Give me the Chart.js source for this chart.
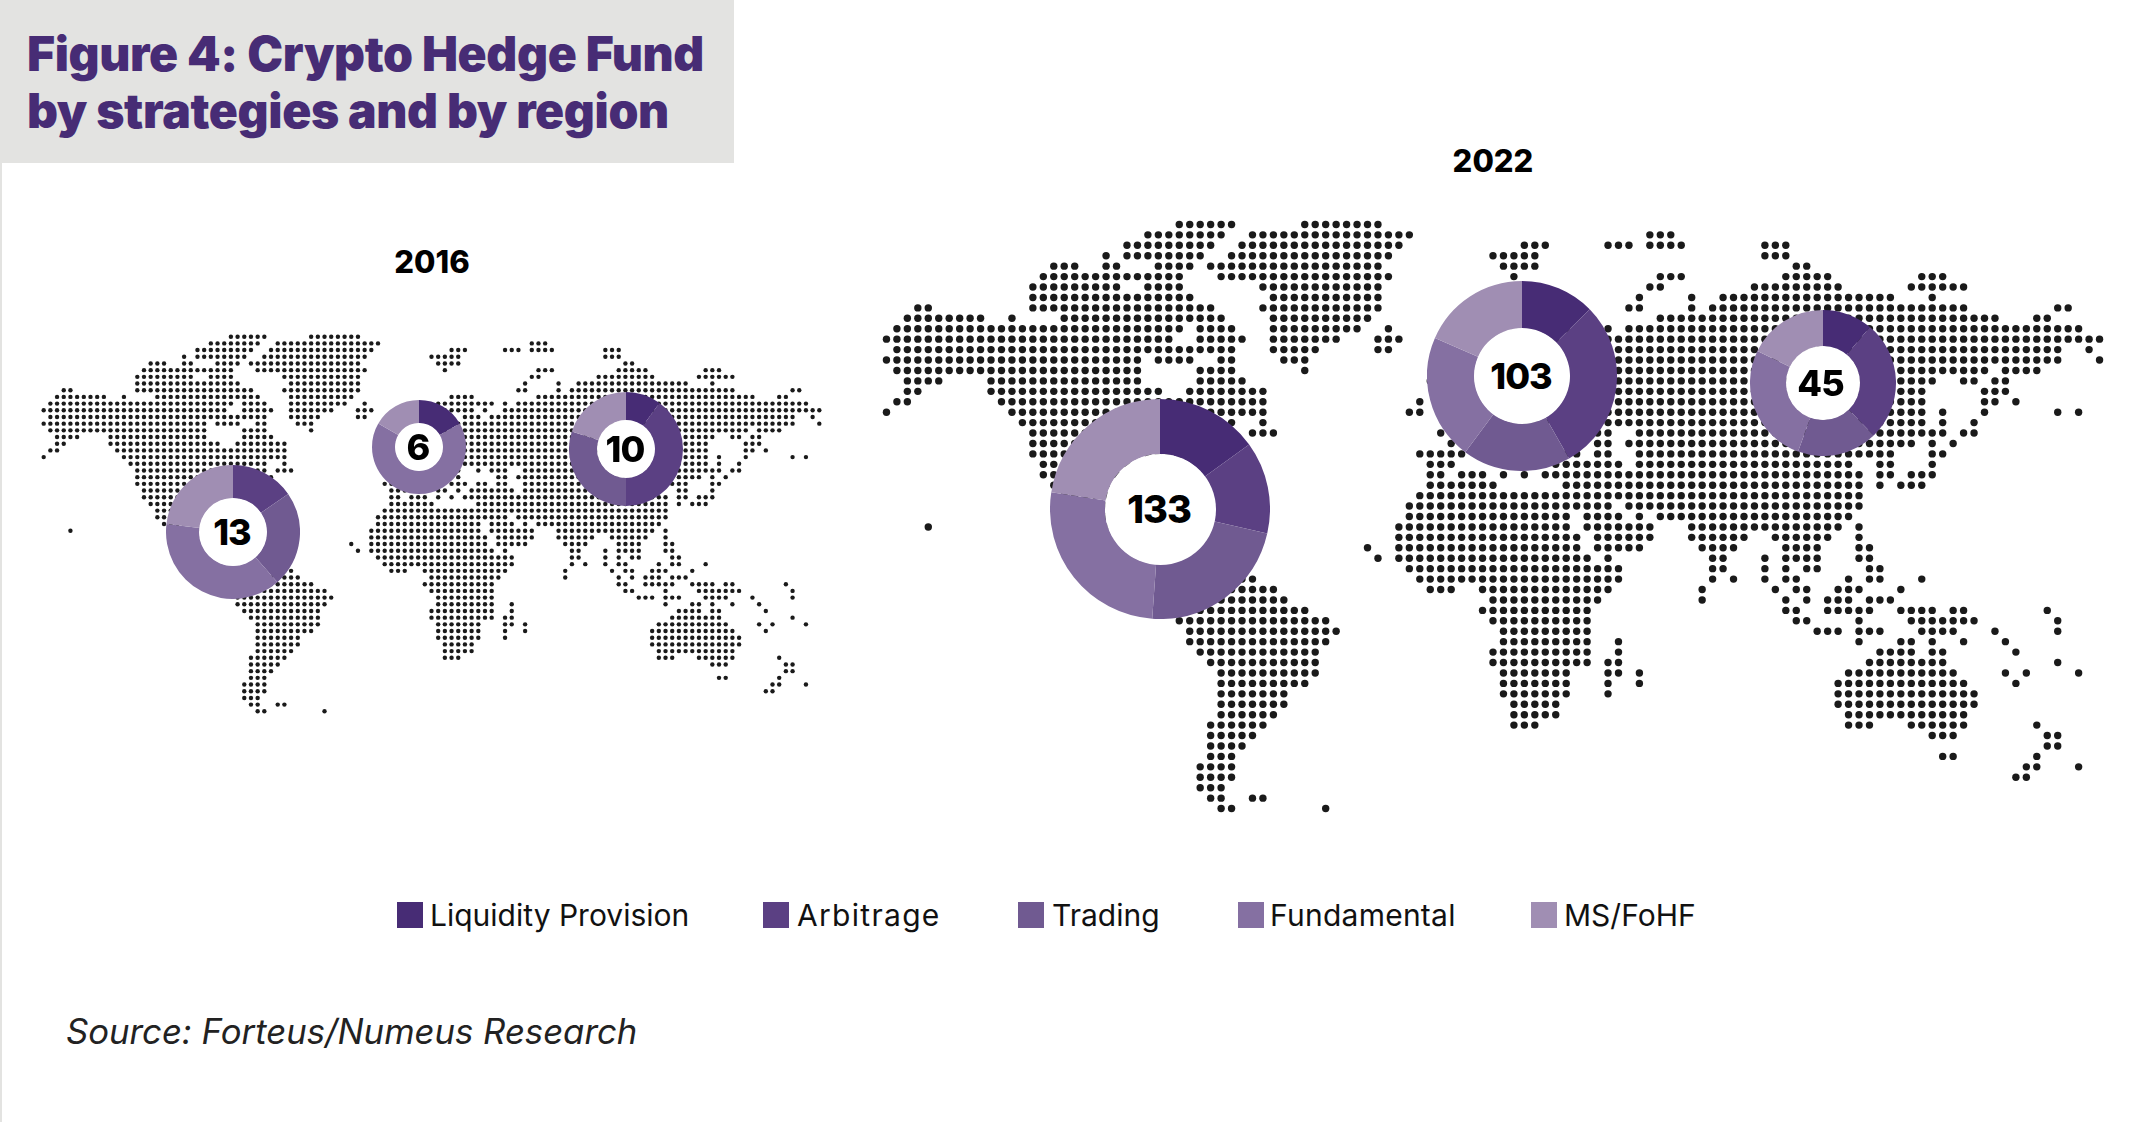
<!DOCTYPE html>
<html>
<head>
<meta charset="utf-8">
<title>Figure 4: Crypto Hedge Fund by strategies and by region</title>
<script src="https://cdn.jsdelivr.net/npm/chart.js@4"></script>
<style>
  html, body { margin: 0; padding: 0; background: #fff; }
  body { width: 2142px; height: 1122px; position: relative; overflow: hidden; font-family: Inter, sans-serif; color: #000; }
  canvas { position: absolute; }
  #edge { position: absolute; left: 0; top: 0; width: 2px; height: 1122px; background: #e3e3e1; }
  #titleBox { position: absolute; left: 0; top: 0; width: 734px; height: 163px; background: #e3e3e1; }
  #title { position: absolute; left: 27px; top: 25px; font-size: 48px; line-height: 57px; font-weight: 900; letter-spacing: -0.35px; color: #472c75; white-space: nowrap; }
  .year { position: absolute; font-size: 31px; font-weight: 800; transform: translateX(-50%); }
  .hole { position: absolute; box-sizing: border-box; background: #fff; border-radius: 50%; display: flex; align-items: center; justify-content: center; font-weight: 800; letter-spacing: -1px; padding-right: 2px; color: #000; z-index: 2; }
  .swatch { position: absolute; top: 902px; width: 26px; height: 26px; }
  .legendText { position: absolute; top: 897px; font-size: 30px; line-height: 36px; white-space: nowrap; color: #111; }
  #source { position: absolute; left: 66px; top: 1010px; font-size: 34.7px; line-height: 42px; font-style: italic; color: #222; white-space: nowrap; }
</style>
</head>
<body>
<div id="edge"></div>
<div id="titleBox"></div>
<div id="title">Figure 4: Crypto Hedge Fund<br>by strategies and by region</div>
<div class="year" style="left:432px;top:243px">2016</div>
<div class="year" style="left:1493px;top:142px">2022</div>
<div id="source">Source: Forteus/Numeus Research</div>

<script>
const strategies = ["Liquidity Provision", "Arbitrage", "Trading", "Fundamental", "MS/FoHF"];
const regions = ["North America", "Europe", "Asia"];

// funds per strategy, same order as strategies
const funds2016NorthAmerica = [0, 2, 3, 5, 3];   // 13
const funds2016Europe = [1, 0, 0, 4, 1];         // 6
const funds2016Asia = [1, 4, 3, 0, 2];           // 10
const funds2022NorthAmerica = [20, 18, 30, 35, 30]; // 133
const funds2022Europe = [13, 30, 19, 22, 19];    // 103
const funds2022Asia = [5, 12, 8, 12, 8];         // 45

// land cells of the dot map: one line per row, [first column, last column]
const landRuns = [
  [[28,33],[40,47]],
  [[25,32],[35,50],[73,75]],
  [[23,31],[34,49],[61,63],[69,71],[73,76],[84,86]],
  [[21,21],[23,30],[33,48],[58,62],[84,86]],
  [[16,18],[21,22],[26,29],[31,47],[59,62],[87,88]],
  [[15,28],[32,48],[60,60],[74,76],[86,90],[99,101]],
  [[14,22],[25,28],[36,47],[73,74],[83,91],[98,103]],
  [[14,29],[37,47],[72,72],[77,77],[80,96],[100,100]],
  [[3,4],[14,31],[36,47],[71,72],[77,77],[79,103],[112,113]],
  [[2,9],[12,12],[17,32],[37,46],[61,64],[74,106],[110,111]],
  [[1,28],[30,33],[37,45],[48,48],[59,67],[69,69],[71,114]],
  [[0,27],[30,34],[37,43],[47,49],[59,64],[66,66],[69,116]],
  [[1,33],[37,41],[47,48],[63,65],[67,112],[115,115]],
  [[0,24],[26,29],[32,33],[38,40],[60,112],[116,116]],
  [[1,24],[30,33],[40,40],[60,105],[107,110]],
  [[2,5],[10,24],[30,34],[52,52],[60,100],[103,104],[106,107]],
  [[2,3],[10,26],[29,36],[60,99],[105,107]],
  [[1,2],[11,36],[51,51],[60,99],[105,106],[108,108]],
  [[0,0],[12,36],[50,51],[60,99],[101,101],[105,105],[112,112],[114,114]],
  [[13,33],[36,36],[60,99],[101,101],[104,104]],
  [[14,33],[35,37],[53,53],[62,62],[65,65],[67,69],[72,101],[103,104]],
  [[14,34],[54,54],[62,62],[68,69],[71,98],[100,100],[102,102]],
  [[14,30],[51,55],[61,63],[65,66],[68,69],[72,96],[100,101]],
  [[15,28],[52,54],[59,60],[62,62],[64,70],[72,92],[95,96],[100,100]],
  [[15,26],[52,53],[55,57],[59,59],[61,61],[63,93],[95,96],[98,100]],
  [[16,24],[52,58],[65,93],[95,95],[97,99]],
  [[17,23],[51,93]],
  [[17,23],[50,69],[71,93]],
  [[18,24],[50,65],[67,70],[72,72],[74,92]],
  [[4,4],[20,24],[49,65],[67,73],[77,91],[93,93]],
  [[22,26],[49,66],[68,73],[77,82],[85,90],[93,93]],
  [[46,46],[49,66],[68,72],[78,81],[86,89],[93,94]],
  [[47,47],[49,67],[69,69],[79,80],[84,84],[86,89],[93,94]],
  [[50,70],[79,80],[84,84],[86,86],[88,89],[94,95]],
  [[34,35],[51,70],[79,79],[81,81],[84,84],[86,87],[92,92],[94,95],[99,99]],
  [[33,37],[52,54],[57,69],[78,78],[85,85],[87,88],[91,93],[97,97]],
  [[32,38],[58,68],[78,78],[86,86],[88,88],[90,92],[94,96]],
  [[30,40],[57,67],[86,87],[90,94],[97,100],[102,103],[111,111]],
  [[28,42],[58,67],[87,88],[93,93],[98,104],[112,112]],
  [[29,43],[59,67],[89,91],[93,95],[99,102],[106,106],[112,112]],
  [[29,42],[59,67],[70,70],[93,93],[97,98],[100,100],[103,103],[107,107]],
  [[30,41],[58,67],[70,70],[95,98],[100,101],[108,108]],
  [[31,41],[58,67],[69,70],[94,101],[112,112]],
  [[32,41],[59,65],[69,70],[72,72],[92,102],[107,107],[109,109],[114,114]],
  [[32,40],[59,65],[69,69],[72,72],[91,103],[108,108]],
  [[32,38],[59,65],[69,69],[91,104]],
  [[32,38],[60,64],[91,104]],
  [[32,37],[60,64],[92,103]],
  [[31,36],[60,62],[92,94],[98,103],[110,110]],
  [[31,35],[100,102],[111,112]],
  [[31,34],[111,112]],
  [[31,33],[101,102],[110,110]],
  [[30,33],[109,110],[114,114]],
  [[30,33],[108,109]],
  [[30,32]],
  [[31,32],[35,36]],
  [[32,33],[42,42]]
];

const strategyColors = ["#472c75", "#5b4083", "#705a91", "#8570a2", "#a08eb3"];

const landDots = [];
landRuns.forEach((runs, row) => {
  runs.forEach(run => {
    for (let col = run[0]; col <= run[1]; col++) {
      landDots.push({ x: col, y: row });
    }
  });
});

function addCanvas(left, top, width, height, zIndex) {
  const canvas = document.createElement("canvas");
  canvas.width = width;
  canvas.height = height;
  canvas.style.left = left + "px";
  canvas.style.top = top + "px";
  canvas.style.width = width + "px";
  canvas.style.height = height + "px";
  canvas.style.zIndex = zIndex;
  document.body.appendChild(canvas);
  return canvas;
}

function drawMap(originX, originY, pitchX, pitchY, dotRadius) {
  const canvas = addCanvas(
    Math.round(originX - pitchX), Math.round(originY - pitchY),
    Math.round(pitchX * 118), Math.round(pitchY * 58), 1
  );
  new Chart(canvas, {
    type: "scatter",
    data: {
      datasets: [{
        data: landDots,
        pointRadius: dotRadius,
        pointBackgroundColor: "#1a1a1a",
        pointBorderWidth: 0
      }]
    },
    options: {
      responsive: false,
      animation: false,
      plugins: { legend: { display: false }, tooltip: { enabled: false } },
      layout: { padding: 0, autoPadding: false }, // otherwise the dot radius shrinks the grid
      scales: {
        x: { type: "linear", min: -1, max: 117, display: false },
        y: { type: "linear", min: -1, max: 57, reverse: true, display: false }
      }
    }
  });
}

function drawDonut(values, centerX, centerY, radius, fontSize, total, textShift) {
  const canvas = addCanvas(centerX - radius, centerY - radius, radius * 2, radius * 2, 3);
  new Chart(canvas, {
    type: "doughnut",
    data: {
      labels: strategies,
      datasets: [{
        data: values,
        backgroundColor: strategyColors,
        borderWidth: 0
      }]
    },
    options: {
      responsive: false,
      animation: false,
      cutout: "50%",
      plugins: { legend: { display: false }, tooltip: { enabled: false } },
      layout: { padding: 0 }
    }
  });

  // white hole with the fund count, the map must not show through it
  const hole = document.createElement("div");
  hole.className = "hole";
  const holeSize = radius + 1;
  hole.style.left = (centerX - holeSize / 2) + "px";
  hole.style.top = (centerY - holeSize / 2) + "px";
  hole.style.width = holeSize + "px";
  hole.style.height = holeSize + "px";
  hole.style.fontSize = fontSize + "px";
  hole.style.zIndex = 4;
  if (textShift) hole.style.paddingRight = textShift + "px";
  hole.textContent = total;
  document.body.appendChild(hole);
}

drawMap(44, 336.7, 6.69, 6.69, 2.2);
drawMap(886.5, 224.3, 10.46, 10.43, 3.7);

drawDonut(funds2016NorthAmerica, 233, 532, 67, 36, 13);
drawDonut(funds2016Europe, 419, 447, 47, 36, 6);
drawDonut(funds2016Asia, 626, 449, 57, 36, 10);
drawDonut(funds2022NorthAmerica, 1160, 509, 110, 38, 133);
drawDonut(funds2022Europe, 1522, 376, 95, 36, 103);
drawDonut(funds2022Asia, 1823, 383, 73, 36, 45, 5);

// legend
const swatchLefts = [397, 763, 1018, 1238, 1531];
const legendTextLefts = [430, 797, 1052, 1270, 1564];
const legendSpacing = [0, 1.3, 0, 0.25, 0];
strategies.forEach((name, i) => {
  const swatch = document.createElement("div");
  swatch.className = "swatch";
  swatch.style.left = swatchLefts[i] + "px";
  swatch.style.background = strategyColors[i];
  document.body.appendChild(swatch);

  const text = document.createElement("div");
  text.className = "legendText";
  text.style.left = legendTextLefts[i] + "px";
  text.style.letterSpacing = legendSpacing[i] + "px";
  text.textContent = name;
  document.body.appendChild(text);
});
</script>
</body>
</html>
